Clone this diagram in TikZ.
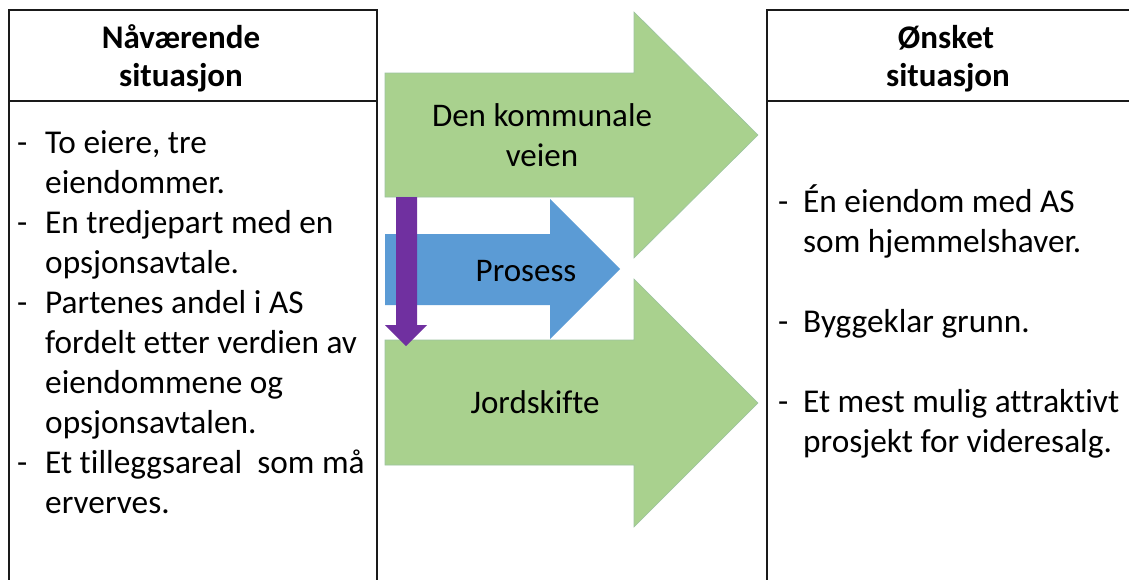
\documentclass[tikz,border=0pt]{standalone}
\usepackage{fontspec}
\setmainfont[Ligatures=NoCommon]{Carlito}
\definecolor{greenfill}{HTML}{A9D18E}
\definecolor{greenedge}{HTML}{9CC3A0}
\definecolor{bluefill}{HTML}{5B9BD5}
\definecolor{purplefill}{HTML}{7030A0}
\definecolor{framecol}{HTML}{1A1A1A}
\tikzset{
  frame/.style={draw=framecol, line width=1.6pt},
  bigarrow/.style={fill=greenfill, draw=greenedge, line width=0.6pt},
  procarrow/.style={fill=bluefill},
  downarrow/.style={fill=purplefill},
  txt/.style={inner sep=0pt, anchor=base west, font=\fontsize{33.3}{40}\selectfont},
  head/.style={inner sep=0pt, anchor=base, font=\fontsize{33}{40}\selectfont\bfseries},
  lbl/.style={inner sep=0pt, anchor=base, font=\fontsize{33}{40}\selectfont},
}
\begin{document}
\begin{tikzpicture}[x=1pt, y=-1pt]
\useasboundingbox (0,0) rectangle (1129,579);
\fill[white] (0,0) rectangle (1129,579);
\clip (0,0) rectangle (1129,579);

% left column frame
\draw[frame] (9,600) -- (9,10) -- (377,10) -- (377,600);
\draw[frame] (9,101) -- (377,101);
% right column frame
\draw[frame] (767,600) -- (767,10) -- (1140,10);
\draw[frame] (767,101) -- (1140,101);

% headers
\node[head] (hl1) at (181,48) {Nåværende};
\node[head] (hl2) at (181,86) {situasjon};
\node[head] (hr1) at (946,48) {Ønsket};
\node[head] (hr2) at (948,86) {situasjon};

% current situation
\node[txt] (d1) at (17,153) {-};
\node[txt] (l1) at (45,153) {To eiere, tre};
\node[txt] (l2) at (45,193) {eiendommer.};
\node[txt] (d2) at (17,233) {-};
\node[txt] (l3) at (45,233) {En tredjepart med en};
\node[txt] (l4) at (45,273) {opsjonsavtale.};
\node[txt] (d3) at (17,313) {-};
\node[txt] (l5) at (45,313) {Partenes andel i AS};
\node[txt] (l6) at (45,353) {fordelt etter verdien av};
\node[txt] (l7) at (45,393) {eiendommene og};
\node[txt] (l8) at (45,433) {opsjonsavtalen.};
\node[txt] (d4) at (17,473) {-};
\node[txt] (l9) at (45,473) {Et tilleggsareal\ \ som må};
\node[txt] (l10) at (45,513) {erverves.};

% desired situation
\node[txt] (e1) at (778,212) {-};
\node[txt] (r1) at (803,212) {Én eiendom med AS};
\node[txt] (r2) at (803,252) {som hjemmelshaver.};
\node[txt] (e2) at (778,332) {-};
\node[txt] (r3) at (803,332) {Byggeklar grunn.};
\node[txt] (e3) at (778,412) {-};
\node[txt] (r4) at (803,412) {Et mest mulig attraktivt};
\node[txt] (r5) at (803,452) {prosjekt for videresalg.};

% block arrows
\draw[bigarrow] (385,73) -- (634,73) -- (634,12) -- (758,135) -- (634,258) -- (634,197) -- (385,197) -- cycle;
\draw[bigarrow] (385,340) -- (634,340) -- (634,279) -- (758,403) -- (634,527) -- (634,465) -- (385,465) -- cycle;
\fill[procarrow] (385,234) -- (550,234) -- (550,199) -- (620,269) -- (550,339) -- (550,305) -- (385,305) -- cycle;
\fill[downarrow] (396,197) -- (417,197) -- (417,325) -- (427,325) -- (406,346) -- (385,325) -- (396,325) -- cycle;

% arrow labels
\node[lbl] (a1) at (542,126) {Den kommunale};
\node[lbl] (a2) at (542,166) {veien};
\node[lbl] (a3) at (526,281) {Prosess};
\node[lbl] (a4) at (535,413) {Jordskifte};
\end{tikzpicture}
\end{document}
